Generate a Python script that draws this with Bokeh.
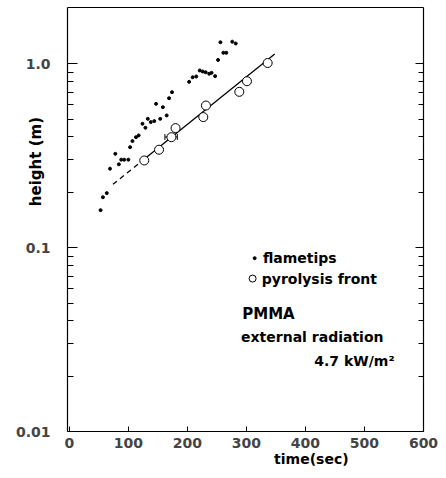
import math
from bokeh.plotting import figure
from bokeh.models import (LinearAxis, LogAxis, FixedTicker, CustomJSTickFormatter, Label,
                          ColumnDataSource, Whisker, TeeHead, Range1d)
from bokeh.embed import file_html
from bokeh.resources import INLINE

# ---- data ----
flame_t = [53, 57, 63.5, 69, 78, 84, 88, 93, 100, 103, 107, 113, 117.5, 124, 129,
           133, 138, 144, 147, 154, 158.5, 165, 169, 174, 203, 209, 215, 221, 226,
           231, 237, 241, 247, 252, 256, 261, 266, 276, 282]
flame_h = [0.160, 0.188, 0.198, 0.269, 0.324, 0.284, 0.301, 0.301, 0.301, 0.352,
           0.38, 0.399, 0.408, 0.472, 0.449, 0.502, 0.482, 0.488, 0.606, 0.502,
           0.581, 0.524, 0.650, 0.701, 0.798, 0.845, 0.853, 0.92, 0.908, 0.90,
           0.883, 0.893, 0.857, 1.05, 1.31, 1.148, 1.148, 1.32, 1.29]

pyro_t = [127, 152, 173, 180, 227, 231.5, 288, 301, 336]
pyro_h = [0.298, 0.341, 0.399, 0.447, 0.513, 0.593, 0.704, 0.804, 1.01]

fit_dash_t = [74, 122]
fit_dash_h = [0.221, 0.294]
fit_solid_t = [122, 348]
fit_solid_h = [0.294, 1.13]

err_h = [0.40]
err_lo = [162]
err_hi = [183]

x_ticks = [0, 100, 200, 300, 400, 500, 600]
y_ticks = [0.01, 0.1, 1.0]
y_minor = [0.02, 0.03, 0.04, 0.05, 0.06, 0.07, 0.08, 0.09,
           0.2, 0.3, 0.4, 0.5, 0.6, 0.7, 0.8, 0.9]

# plotting box (data limits of the drawn frame)
X_LO, X_HI = -3, 600
Y_LO, Y_HI = 0.01, 2.024

FONT = "DejaVu Sans"

p = figure(width=438, height=470, y_axis_type="log",
           x_axis_location=None, y_axis_location=None,
           x_range=Range1d(-116.5, 625.4), y_range=Range1d(0.006136, 2.21),
           output_backend="svg", toolbar_location=None,
           min_border=0, min_border_left=0, min_border_right=0,
           min_border_top=0, min_border_bottom=0)
p.grid.visible = False
p.outline_line_color = None
p.background_fill_color = "white"
p.border_fill_color = "white"

# bottom axis
xa = LinearAxis(ticker=FixedTicker(ticks=x_ticks), fixed_location=Y_LO, bounds=(X_LO, X_HI))
xa.major_tick_in = 5
xa.major_tick_out = 0
xa.minor_tick_line_color = None
xa.axis_line_color = "black"
xa.axis_line_width = 1.2
xa.major_label_text_font = FONT
xa.major_label_text_font_style = "bold"
xa.major_label_text_font_size = "14px"
xa.major_label_standoff = 6
p.add_layout(xa, "below")

# top frame line
ta = LinearAxis(ticker=FixedTicker(ticks=[]), fixed_location=Y_HI, bounds=(X_LO, X_HI))
ta.major_tick_line_color = None
ta.minor_tick_line_color = None
ta.major_label_text_font_size = "1px"
ta.major_label_text_alpha = 0
ta.axis_line_width = 1.2
p.add_layout(ta, "above")

# left axis
ya = LogAxis(ticker=FixedTicker(ticks=y_ticks, minor_ticks=y_minor),
             fixed_location=X_LO, bounds=(Y_LO, Y_HI))
ya.formatter = CustomJSTickFormatter(code="return tick >= 1 ? tick.toFixed(1) : String(tick);")
ya.axis_line_width = 1.2
ya.major_tick_in = 10
ya.major_tick_out = 0
ya.minor_tick_in = 6
ya.minor_tick_out = 0
ya.major_label_text_font = FONT
ya.major_label_text_font_style = "bold"
ya.major_label_text_font_size = "14px"
ya.major_label_standoff = 17
p.add_layout(ya, "left")

# right axis with inward ticks only
ra = LogAxis(ticker=FixedTicker(ticks=y_ticks, minor_ticks=y_minor),
             fixed_location=X_HI, bounds=(Y_LO, Y_HI))
ra.axis_line_width = 1.2
ra.major_tick_in = 8
ra.major_tick_out = 0
ra.minor_tick_in = 5
ra.minor_tick_out = 0
ra.major_label_text_font_size = "1px"
ra.major_label_text_alpha = 0
ra.major_label_standoff = 0
p.add_layout(ra, "right")

# fit line
p.line(fit_dash_t, fit_dash_h, line_color="black", line_width=1.3, line_dash="5 4")
p.line(fit_solid_t, fit_solid_h, line_color="black", line_width=1.3)

# flametips
p.scatter(flame_t, flame_h, size=3, marker="circle", fill_color="black", line_color="black")

# pyrolysis front
p.scatter(pyro_t, pyro_h, size=9, marker="circle", fill_color="white",
          line_color="black", line_width=1)

# error bar
esrc = ColumnDataSource(dict(base=err_h, lower=err_lo, upper=err_hi))
p.add_layout(Whisker(source=esrc, base="base", lower="lower", upper="upper",
                     dimension="width", line_color="black", line_width=1,
                     upper_head=TeeHead(size=6, line_color="black"),
                     lower_head=TeeHead(size=6, line_color="black")))

# legend (drawn by hand as in the figure)
p.scatter([314], [0.0877], size=3, marker="circle", fill_color="black", line_color="black")
p.scatter([310.5], [0.0679], size=7, marker="circle", fill_color="white", line_color="black")

def txt(x, y, s, size="14px", align="left", angle=0.0):
    p.add_layout(Label(x=x, y=y, text=s, text_font=FONT, text_font_style="bold",
                       text_font_size=size, text_align=align, angle=angle,
                       text_baseline="middle", text_color="black"))

txt(328, 0.0877, "flametips")
txt(326, 0.0679, "pyrolysis front")
txt(293, 0.0433, "PMMA", "15px")
txt(291, 0.0325, "external radiation")
txt(415, 0.0243, "4.7 kW/m²")

# axis titles, where the figure has them
txt(410, 0.00713, "time(sec)", "14px", "center")
txt(-57, 0.294, "height (m)", "15px", "center", math.pi / 2)

open("out.html", "w").write(file_html(p, INLINE))
